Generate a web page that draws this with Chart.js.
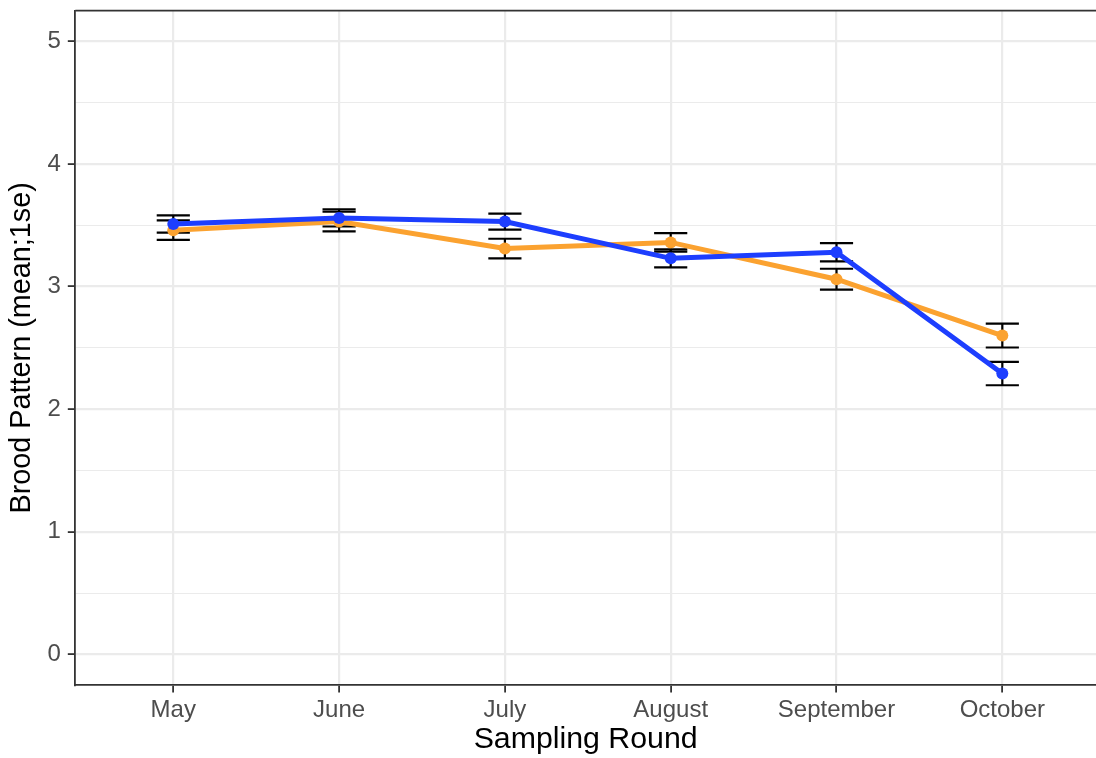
<!DOCTYPE html>
<html>
<head>
<meta charset="utf-8">
<script src="https://cdn.jsdelivr.net/npm/chart.js@4/dist/chart.umd.min.js"></script>
<style>
  html, body { margin: 0; padding: 0; overflow: hidden; background: #ffffff; }
  canvas { display: block; }
</style>
</head>
<body>
<canvas id="brood" width="1096" height="758"></canvas>
<script>
// Sampling rounds (x categories)
const months = ['May', 'June', 'July', 'August', 'September', 'October'];

// Group drawn in orange: means and one standard error
const orangeMeans = [3.46, 3.53, 3.31, 3.36, 3.06, 2.60];
const orangeSE    = [0.08, 0.08, 0.08, 0.075, 0.085, 0.097];

// Group drawn in blue: means and one standard error
const blueMeans = [3.51, 3.56, 3.53, 3.23, 3.28, 2.29];
const blueSE    = [0.07, 0.07, 0.065, 0.073, 0.075, 0.095];

// Y axis tick values (labelled) and minor grid values
const yMajorTicks = [0, 1, 2, 3, 4, 5];
const yMinorTicks = [0.5, 1.5, 2.5, 3.5, 4.5];

const FONT = "'Liberation Sans', Arial, Helvetica, sans-serif";
const ORANGE = '#FBA230';
const BLUE = '#1D3EFE';
const GRID = '#EBEBEB';
const FRAME = '#333333';

const toPoints = (vals) => vals.map((v, i) => ({ x: i, y: v }));

// Keep the panel edges exactly where the layout puts them
const noLabelPadding = (scale) => {
  scale.paddingTop = 0;
  scale.paddingBottom = 0;
  scale.paddingLeft = 0;
  scale.paddingRight = 0;
};

// Vertical error bars with caps, drawn beneath the lines and points
const errorBars = {
  id: 'errorBars',
  beforeDatasetsDraw(chart) {
    const { ctx, chartArea, scales: { x, y } } = chart;
    const capHalf = 0.1; // cap half-width in category units
    const groups = [
      { means: orangeMeans, se: orangeSE },
      { means: blueMeans, se: blueSE }
    ];
    ctx.save();
    ctx.beginPath();
    ctx.rect(chartArea.left, chartArea.top, chartArea.right - chartArea.left, chartArea.bottom - chartArea.top);
    ctx.clip();
    ctx.strokeStyle = '#000000';
    ctx.lineWidth = 2.2;
    ctx.lineCap = 'butt';
    groups.forEach(g => {
      g.means.forEach((m, i) => {
        const px = x.getPixelForValue(i);
        const x0 = x.getPixelForValue(i - capHalf);
        const x1 = x.getPixelForValue(i + capHalf);
        const yHi = y.getPixelForValue(m + g.se[i]);
        const yLo = y.getPixelForValue(m - g.se[i]);
        ctx.beginPath();
        ctx.moveTo(px, yHi); ctx.lineTo(px, yLo);
        ctx.moveTo(x0, yHi); ctx.lineTo(x1, yHi);
        ctx.moveTo(x0, yLo); ctx.lineTo(x1, yLo);
        ctx.stroke();
      });
    });
    ctx.restore();
  }
};

// Top edge of the panel frame (the panel runs on past the right edge)
const panelFrame = {
  id: 'panelFrame',
  afterDraw(chart) {
    const { ctx, chartArea: a } = chart;
    ctx.save();
    ctx.strokeStyle = FRAME;
    ctx.lineWidth = 1.8;
    ctx.beginPath();
    ctx.moveTo(a.left, a.top);
    ctx.lineTo(a.right, a.top);
    ctx.stroke();
    ctx.restore();
  }
};

new Chart(document.getElementById('brood'), {
  type: 'line',
  data: {
    datasets: [
      {
        label: 'blue',
        data: toPoints(blueMeans),
        borderColor: BLUE,
        backgroundColor: BLUE,
        borderWidth: 5,
        pointRadius: 6,
        pointBorderWidth: 0,
        pointHoverRadius: 6,
        tension: 0,
        order: 0
      },
      {
        label: 'orange',
        data: toPoints(orangeMeans),
        borderColor: ORANGE,
        backgroundColor: ORANGE,
        borderWidth: 5,
        pointRadius: 6,
        pointBorderWidth: 0,
        pointHoverRadius: 6,
        tension: 0,
        order: 1
      }
    ]
  },
  options: {
    responsive: false,
    animation: false,
    devicePixelRatio: 1,
    events: [],
    layout: { autoPadding: false, padding: { top: 10.7, right: 0, bottom: 0, left: 0 } },
    plugins: {
      legend: { display: false },
      tooltip: { enabled: false }
    },
    scales: {
      x: {
        type: 'linear',
        min: -0.591,
        max: 5.565,
        afterBuildTicks(scale) {
          scale.ticks = months.map((m, i) => ({ value: i }));
        },
        afterFit(scale) {
          scale.height = 73;
          noLabelPadding(scale);
        },
        ticks: {
          autoSkip: false,
          maxRotation: 0,
          padding: 3.5,
          color: '#4D4D4D',
          font: { family: FONT, size: 24 },
          callback: (v) => months[v]
        },
        grid: {
          color: GRID,
          lineWidth: 2.2,
          tickLength: 7.5,
          tickColor: FRAME,
          tickWidth: 1.8
        },
        border: { display: true, color: FRAME, width: 1.8 },
        title: {
          display: true,
          text: 'Sampling Round',
          color: '#000000',
          font: { family: FONT, size: 30.3 },
          padding: { top: 0, bottom: 0 }
        }
      },
      y: {
        type: 'linear',
        min: -0.25,
        max: 5.25,
        afterBuildTicks(scale) {
          scale.ticks = yMajorTicks.concat(yMinorTicks)
            .sort((a, b) => a - b)
            .map(v => ({ value: v }));
        },
        afterFit(scale) {
          scale.width = 75.3;
          noLabelPadding(scale);
        },
        ticks: {
          autoSkip: false,
          padding: 7,
          color: '#4D4D4D',
          font: { family: FONT, size: 24 },
          callback: (v) => (yMajorTicks.includes(v) ? String(v) : '')
        },
        grid: {
          color: GRID,
          lineWidth: (c) => (yMajorTicks.includes(c.tick.value) ? 2.2 : 1.1),
          tickLength: 7.5,
          tickColor: (c) => (yMajorTicks.includes(c.tick.value) ? FRAME : 'rgba(0,0,0,0)'),
          tickWidth: 1.8
        },
        border: { display: true, color: FRAME, width: 1.8 },
        title: {
          display: true,
          text: 'Brood Pattern (mean;1se)',
          color: '#000000',
          font: { family: FONT, size: 28.8 },
          padding: { top: 5, bottom: 0 }
        }
      }
    }
  },
  plugins: [errorBars, panelFrame]
});
</script>
</body>
</html>
